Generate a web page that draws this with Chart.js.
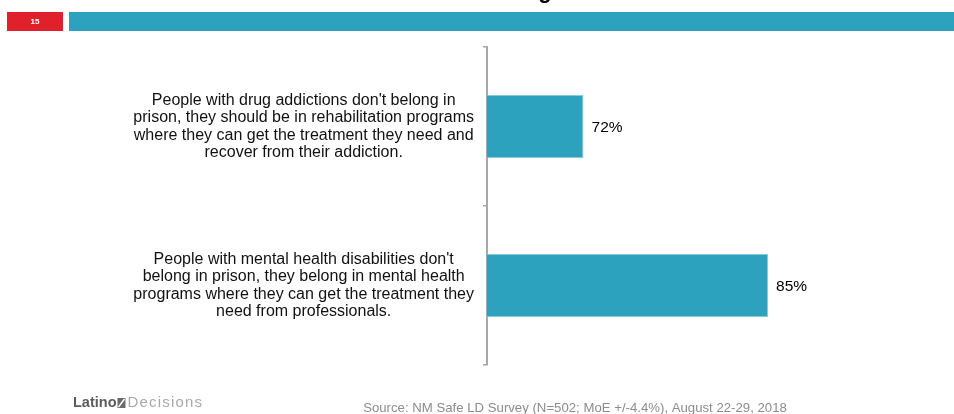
<!DOCTYPE html>
<html>
<head>
<meta charset="utf-8">
<script src="https://cdn.jsdelivr.net/npm/chart.js@4.4.0/dist/chart.umd.min.js"></script>
<style>
  html, body { margin: 0; padding: 0; background: #fff; }
  #wrap { width: 954px; height: 414px; }
</style>
</head>
<body>
<div id="wrap"><canvas id="mycanvas" width="954" height="414"></canvas></div>
<script>
// statements shown on the left, one per bar (already broken into lines)
var statements = [
    ["People with drug addictions don't belong in",
     "prison, they should be in rehabilitation programs",
     "where they can get the treatment they need and",
     "recover from their addiction."],
    ["People with mental health disabilities don't",
     "belong in prison, they belong in mental health",
     "programs where they can get the treatment they",
     "need from professionals."]
];
var agreePct = [72, 85];
var slideNumber = "15";
var sourceNote = "Source: NM Safe LD Survey (N=502; MoE +/-4.4%), August 22-29, 2018";

var teal = '#2da2bf';
var fontFamily = "'Liberation Sans', Arial, Helvetica, sans-serif";

// header strip, cut-off title and footer (logo + source)
var slideFrame = {
    id: 'slideFrame',
    beforeDraw: function(chart) {
        var ctx = chart.ctx;
        ctx.save();
        ctx.fillStyle = '#fff';
        ctx.fillRect(0, 0, chart.width, chart.height);

        // bottom of the slide title peeking in above the strip
        ctx.fillStyle = '#000';
        ctx.font = 'bold 22px ' + fontFamily;
        ctx.textAlign = 'center';
        ctx.textBaseline = 'alphabetic';
        ctx.fillText('g', 545, -2);

        ctx.fillStyle = '#e0202b';
        ctx.fillRect(7, 12, 56, 19);
        ctx.fillStyle = teal;
        ctx.fillRect(69, 12, chart.width - 69, 19);

        ctx.fillStyle = '#fff';
        ctx.font = 'bold 8px ' + fontFamily;
        ctx.textBaseline = 'middle';
        ctx.fillText(slideNumber, 35, 21.5);

        // logo
        ctx.textAlign = 'left';
        ctx.font = 'bold 14.5px ' + fontFamily;
        ctx.fillStyle = '#5c5c5c';
        ctx.fillText('Latino', 73, 403);
        var lw = ctx.measureText('Latino').width;
        var ix = 73 + lw + 1;
        ctx.fillStyle = '#6a6a6a';
        ctx.fillRect(ix, 398, 8, 10);
        ctx.strokeStyle = '#fff';
        ctx.lineWidth = 1.5;
        ctx.beginPath();
        ctx.moveTo(ix + 1, 407);
        ctx.lineTo(ix + 7, 399);
        ctx.stroke();
        ctx.font = '15px ' + fontFamily;
        ctx.letterSpacing = '1.2px';
        ctx.fillStyle = '#a9a9a9';
        ctx.fillText('Decisions', ix + 10, 403);
        ctx.letterSpacing = '0px';

        ctx.font = '13.2px ' + fontFamily;
        ctx.fillStyle = '#8c8c8c';
        ctx.textAlign = 'center';
        ctx.fillText(sourceNote, 575, 408);
        ctx.restore();
    }
};

// percentage written just past the end of each bar
var barValues = {
    id: 'barValues',
    afterDatasetsDraw: function(chart) {
        var ctx = chart.ctx;
        var meta = chart.getDatasetMeta(0);
        ctx.save();
        ctx.font = '15.5px ' + fontFamily;
        ctx.fillStyle = '#000';
        ctx.textAlign = 'left';
        ctx.textBaseline = 'middle';
        meta.data.forEach(function(bar, i) {
            ctx.fillText(agreePct[i] + '%', bar.x + 8, bar.y + 1);
        });
        ctx.restore();
    }
};

var ctx = document.getElementById('mycanvas');

var barGraph = new Chart(ctx, {
    type: 'bar',
    data: {
        labels: statements,
        datasets: [{
            data: agreePct,
            backgroundColor: teal,
            borderColor: '#86cbdc',
            borderWidth: 1,
            barPercentage: 0.4,
            categoryPercentage: 1
        }]
    },
    options: {
        indexAxis: 'y',
        responsive: false,
        devicePixelRatio: 1,
        animation: false,
        layout: { padding: { top: 47, bottom: 49, left: 0, right: 44 } },
        plugins: {
            legend: { display: false },
            tooltip: { enabled: false }
        },
        scales: {
            x: { display: false, min: 65.2, max: 95 },
            y: {
                grid: {
                    drawOnChartArea: false,
                    drawTicks: true,
                    tickLength: 4,
                    color: '#a8a8a8',
                    lineWidth: 1.5,
                    offset: true
                },
                border: { display: true, color: '#a8a8a8', width: 2 },
                ticks: {
                    crossAlign: 'center',
                    padding: 9,
                    color: '#111',
                    font: { family: fontFamily, size: 16, lineHeight: 1.09 }
                },
                afterFit: function(scale) {
                    scale.width = 487;
                }
            }
        }
    },
    plugins: [slideFrame, barValues]
});
</script>
</body>
</html>
